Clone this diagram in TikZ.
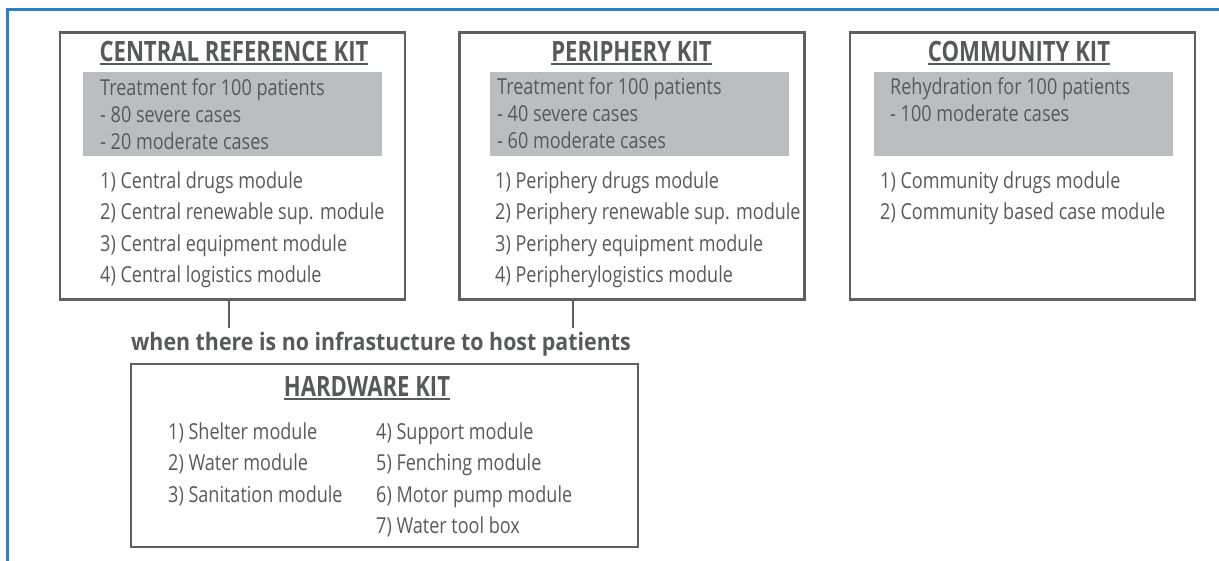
\documentclass[tikz,border=0pt]{standalone}
\usepackage{fontspec}
\setmainfont{Open Sans}
\newfontfamily\bodyfont[FakeStretch=0.82]{Open Sans}
\newfontfamily\headfont[FakeStretch=0.79]{Open Sans}
\newfontfamily\notefont[FakeStretch=0.89]{Open Sans}
\definecolor{kitline}{HTML}{5F6062}
\definecolor{kittext}{HTML}{58595B}
\definecolor{kitfill}{HTML}{BCBDC0}
\definecolor{kitblue}{HTML}{2A80C2}
\newcommand{\kittitle}[1]{\sbox0{#1}\rlap{\usebox0}\rule[-3pt]{\wd0}{1.8pt}}
\begin{document}
\begin{tikzpicture}[x=1pt,y=-1pt]
        \tikzset{
            kitbox/.style={draw=kitline,line width=2.5pt,minimum width=345pt,minimum height=267pt,inner sep=0pt},
            infobox/.style={fill=kitfill,minimum width=299pt,minimum height=84pt,inner sep=0pt},
            kithead/.style={anchor=base,inner sep=0pt,text=kittext,font={\headfont\bfseries\fontsize{28}{30}\selectfont}},
            kititem/.style={anchor=base west,inner sep=0pt,text=kittext,font={\bodyfont\fontsize{22}{24}\selectfont}},
            link/.style={draw=kitline,line width=2.5pt},
        }
        \useasboundingbox (0,0) rectangle (1219,561);
        \draw[kitblue,line width=2.5pt] (7.5,561) -- (7.5,9.5) -- (1219,9.5);

        % the three kits
        \node[kitbox] (central) at (232.5,166) {};
        \node[kitbox] (periphery) at (632,166) {};
        \node[kitbox] (community) at (1022.5,166) {};
        \node[infobox] (cinfo) at (232.5,114) {};
        \node[infobox] (pinfo) at (639.5,114) {};
        \node[infobox] (minfo) at (1023.5,114) {};
        \node[kithead] (ctitle) at (234,62) {\kittitle{CENTRAL REFERENCE KIT}};
        \node[kithead] (ptitle) at (631.5,62) {\kittitle{PERIPHERY KIT}};
        \node[kithead] (mtitle) at (1019,62) {\kittitle{COMMUNITY KIT}};

        \foreach \t [count=\i] in {Treatment for 100 patients,- 80 severe cases,- 20 moderate cases}
            \node[kititem] (cg\i) at (100,69+27*\i) {\t};
        \foreach \t [count=\i] in {1) Central drugs module,2) Central renewable sup. module,3) Central equipment module,4) Central logistics module}
            \node[kititem] (cm\i) at (100,157+31.5*\i) {\t};

        \foreach \t [count=\i] in {Treatment for 100 patients,- 40 severe cases,- 60 moderate cases}
            \node[kititem] (pg\i) at (497,68+27*\i) {\t};
        \foreach \t [count=\i] in {1) Periphery drugs module,2) Periphery renewable sup. module,3) Periphery equipment module,4) Peripherylogistics module}
            \node[kititem] (pm\i) at (495,157+31.5*\i) {\t};

        \foreach \t [count=\i] in {Rehydration for 100 patients,- 100 moderate cases}
            \node[kititem] (mg\i) at (890,68+27*\i) {\t};
        \foreach \t [count=\i] in {1) Community drugs module,2) Community based case module}
            \node[kititem] (mm\i) at (880,157+31.5*\i) {\t};

        % hardware kit
        \node[anchor=base west,inner sep=0pt,text=kittext,font={\notefont\bfseries\fontsize{24}{26}\selectfont}] (note) at (131,351) {when there is no infrastucture to host patients};
        \node[kitbox,minimum width=507pt,minimum height=183pt] (hardware) at (384.7,455.7) {};
        \node[kithead] (htitle) at (367,397) {\kittitle{HARDWARE KIT}};
        \foreach \t [count=\i] in {1) Shelter module,2) Water module,3) Sanitation module}
            \node[kititem] (ha\i) at (168,407.5+31.5*\i) {\t};
        \foreach \t [count=\i] in {4) Support module,5) Fenching module,6) Motor pump module,7) Water tool box}
            \node[kititem] (hb\i) at (376,407.5+31.5*\i) {\t};

        \coordinate (cend) at (229,328);
        \coordinate (pend) at (573,328);
        \draw[link] (cend |- central.south) -- (cend);
        \draw[link] (pend |- periphery.south) -- (pend);
    \end{tikzpicture}
\end{document}
